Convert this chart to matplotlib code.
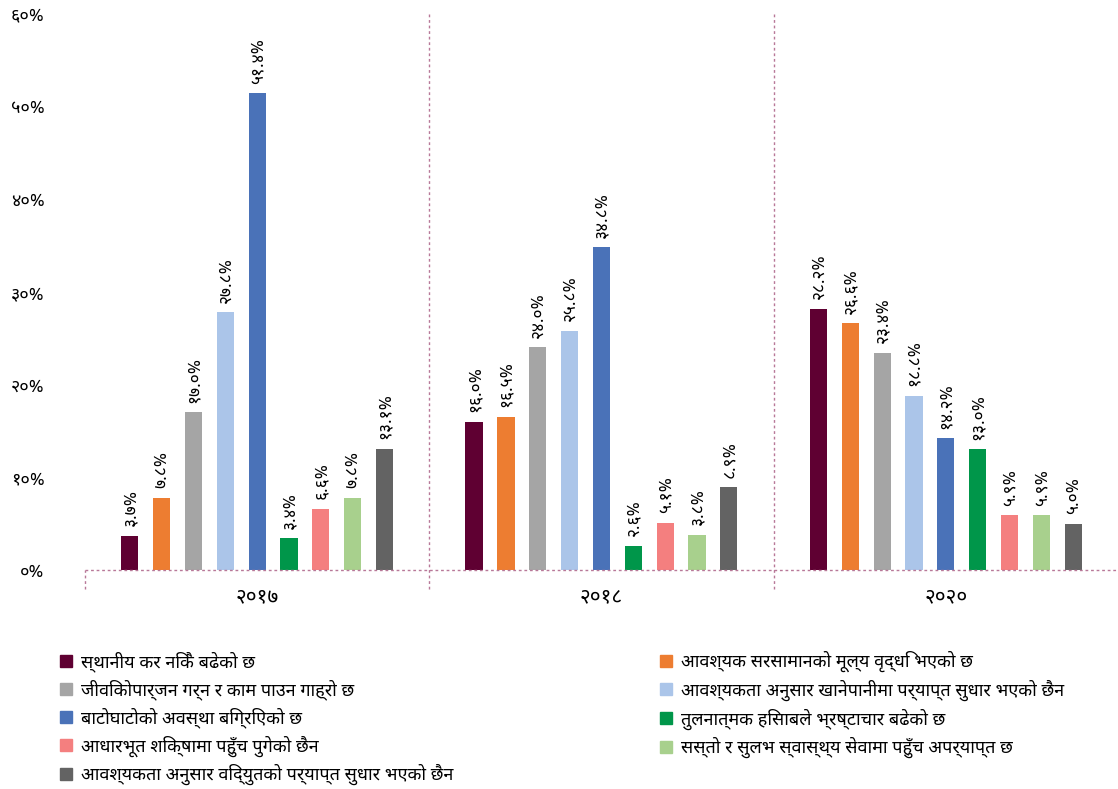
import matplotlib
matplotlib.use("Agg")
import matplotlib.pyplot as plt
import numpy as np
from matplotlib import font_manager
from matplotlib.ft2font import FT2Font
from matplotlib.lines import Line2D


def find_devanagari_font():
    # prefer a known Devanagari family, else any font that has the glyphs
    names = {f.name for f in font_manager.fontManager.ttflist}
    for pref in ['Noto Sans Devanagari', 'Lohit Devanagari', 'Mukti', 'FreeSans']:
        if pref in names:
            return pref
    for f in font_manager.fontManager.ttflist:
        try:
            if 0x0915 in FT2Font(f.fname).get_charmap():
                return f.name
        except Exception:
            pass
    return None


deva = find_devanagari_font()
if deva:
    plt.rcParams['font.family'] = [deva, 'DejaVu Sans']
else:
    plt.rcParams['font.family'] = ['DejaVu Sans']

# data
years = ['२०१७', '२०१८', '२०२०']
series_names = [
    'स्थानीय कर निकै बढेको छ',
    'आवश्यक सरसामानको मूल्य वृद्धि भएको छ',
    'जीविकोपार्जन गर्न र काम पाउन गाह्रो छ',
    'आवश्यकता अनुसार खानेपानीमा पर्याप्त सुधार भएको छैन',
    'बाटोघाटोको अवस्था बिग्रिएको छ',
    'तुलनात्मक हिसाबले भ्रष्टाचार बढेको छ',
    'आधारभूत शिक्षामा पहुँच पुगेको छैन',
    'सस्तो र सुलभ स्वास्थ्य सेवामा पहुँच अपर्याप्त छ',
    'आवश्यकता अनुसार विद्युतको पर्याप्त सुधार भएको छैन',
]
values_2017 = [3.7, 7.8, 17.0, 27.8, 51.4, 3.4, 6.6, 7.8, 13.1]
values_2018 = [16.0, 16.5, 24.0, 25.8, 34.8, 2.6, 5.1, 3.8, 8.9]
values_2020 = [28.2, 26.6, 23.4, 18.8, 14.2, 13.0, 5.9, 5.9, 5.0]
yticks = [0, 10, 20, 30, 40, 50, 60]
ytick_labels = ['०%', '१०%', '२०%', '३०%', '४०%', '५०%', '६०%']

colors = ['#5F0032', '#ED7D31', '#A5A5A5', '#ABC5E9', '#4A72B8',
          '#00964A', '#F47F7F', '#A8D08D', '#636363']

NEP = str.maketrans('0123456789', '०१२३४५६७८९')


def nep(v):
    return ('%.1f%%' % v).translate(NEP)


data = np.array([values_2017, values_2018, values_2020])

fig = plt.figure(figsize=(11.18, 7.89), dpi=100)
ax = fig.add_axes([0.076, 0.2776, 0.924, 0.705])

x = np.arange(len(years))
step = 0.0925
width = 0.05
for i in range(len(series_names)):
    pos = x + (i - 4) * step
    ax.bar(pos, data[:, i], width=width, color=colors[i], zorder=3)
    for px, v in zip(pos, data[:, i]):
        ax.annotate(nep(v), (px, v), xytext=(0, 7), textcoords='offset points',
                    rotation=90, ha='center', va='bottom', fontsize=12.5)

ax.set_xlim(-0.5, 2.5)
ax.set_ylim(0, 60)
ax.set_yticks(yticks)
ax.set_yticklabels(ytick_labels, fontsize=13)
ax.set_xticks(x)
ax.set_xticklabels(years, fontsize=15)
ax.tick_params(axis='y', length=0, pad=29)
ax.tick_params(axis='x', length=0, pad=12)
for s in ax.spines.values():
    s.set_visible(False)

# dotted baseline and group separators
ax.axhline(0, color='#B87898', lw=1, ls=(0, (2, 2)), zorder=4, clip_on=False)
for xv in [-0.5, 0.5, 1.5]:
    top = 1.0 if xv != -0.5 else 0.0
    ax.axvline(xv, ymin=-0.035, ymax=top, color='#B87898', lw=1,
               ls=(0, (2, 2)), clip_on=False)

handles = [Line2D([], [], marker='s', ls='', markersize=8, color=c) for c in colors]
left = [0, 2, 4, 6, 8]
right = [1, 3, 5, 7]
kw = dict(frameon=False, fontsize=13, handlelength=0.7, handletextpad=0.5,
          labelspacing=0.41, borderaxespad=0, borderpad=0)
fig.legend([handles[i] for i in left], [series_names[i] for i in left],
           loc='upper left', bbox_to_anchor=(0.053, 0.175), **kw)
fig.legend([handles[i] for i in right], [series_names[i] for i in right],
           loc='upper left', bbox_to_anchor=(0.590, 0.175), **kw)

fig.savefig('out.png', dpi=100)
